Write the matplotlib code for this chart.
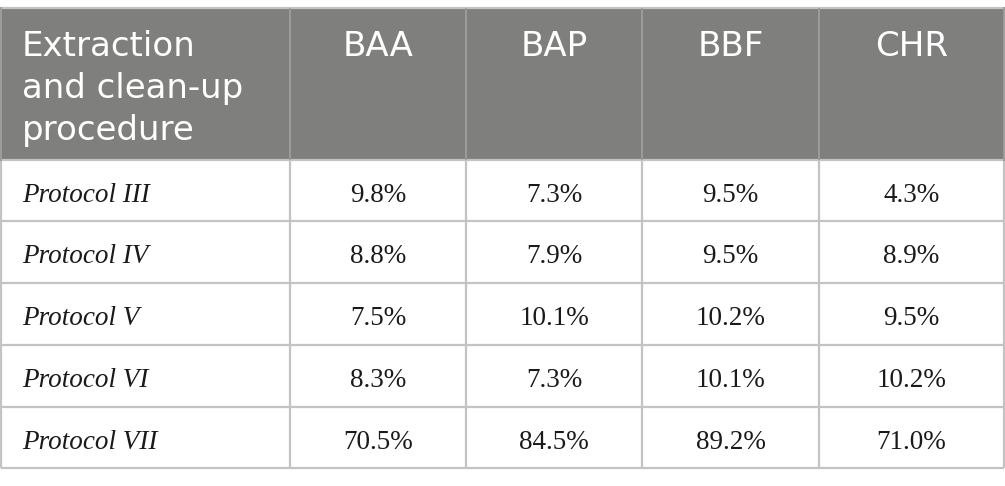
import matplotlib
matplotlib.use("Agg")
import matplotlib.pyplot as plt
from matplotlib.patches import Rectangle

header_first = ["Extraction", "and clean-up", "procedure"]
compounds = ["BAA", "BAP", "BBF", "CHR"]
protocols = ["Protocol III", "Protocol IV", "Protocol V", "Protocol VI", "Protocol VII"]
baa = ["9.8%", "8.8%", "7.5%", "8.3%", "70.5%"]
bap = ["7.3%", "7.9%", "10.1%", "7.3%", "84.5%"]
bbf = ["9.5%", "9.5%", "10.2%", "10.1%", "89.2%"]
chr_ = ["4.3%", "8.9%", "9.5%", "10.2%", "71.0%"]
values = [baa, bap, bbf, chr_]

W, H = 1005, 486
fig = plt.figure(figsize=(W / 100, H / 100), dpi=100)
ax = fig.add_axes([0, 0, 1, 1])
ax.set_xlim(0, W)
ax.set_ylim(H, 0)
ax.axis("off")

col_x = [0.5, 290, 466, 642, 819, 1004]
row_y = [8, 160, 221, 283, 345, 407, 468]
header_bg = "#7f807e"
line_c = "#c3c3c3"

# header background
ax.add_patch(Rectangle((col_x[0], row_y[0]), col_x[-1] - col_x[0], row_y[1] - row_y[0],
                       facecolor=header_bg, edgecolor="none", zorder=1))

# horizontal lines
for y in row_y:
    ax.plot([col_x[0], col_x[-1]], [y, y], color=line_c, lw=1.6, zorder=3,
            solid_capstyle="butt")
# vertical lines
for x in col_x:
    ax.plot([x, x], [row_y[1], row_y[-1]], color=line_c, lw=1.6, zorder=3,
            solid_capstyle="butt")
    if 0 < x < 1000:
        ax.plot([x, x], [row_y[0], row_y[1]], color="#9c9c9c", lw=1.4, zorder=3,
                solid_capstyle="butt")
ax.plot([col_x[0], col_x[0]], [row_y[0], row_y[1]], color="#9c9c9c", lw=1.4, zorder=3)
ax.plot([col_x[-1], col_x[-1]], [row_y[0], row_y[1]], color="#9c9c9c", lw=1.4, zorder=3)

hfont = dict(family=["DejaVu Sans"], fontsize=24.5, fontweight="normal", color="white")
for i, line in enumerate(header_first):
    ax.text(22, 56 + 42 * i, line, ha="left", va="baseline", zorder=4, **hfont)

centers = [(col_x[i] + col_x[i + 1]) / 2 for i in range(1, 5)]
for c, name in zip(centers, compounds):
    ax.text(c, 56, name, ha="center", va="baseline", zorder=4, **hfont)

bfont = dict(family=["Liberation Serif", "DejaVu Serif"], fontsize=19.5, color="#1a1a1a")
for r, p in enumerate(protocols):
    base = row_y[r + 1] + 42
    ax.text(22, base, p, ha="left", va="baseline", style="italic", zorder=4, **bfont)
    for c, vals in zip(centers, values):
        ax.text(c, base, vals[r], ha="center", va="baseline", zorder=4, **bfont)

fig.savefig("out.png", dpi=100, facecolor="white")
